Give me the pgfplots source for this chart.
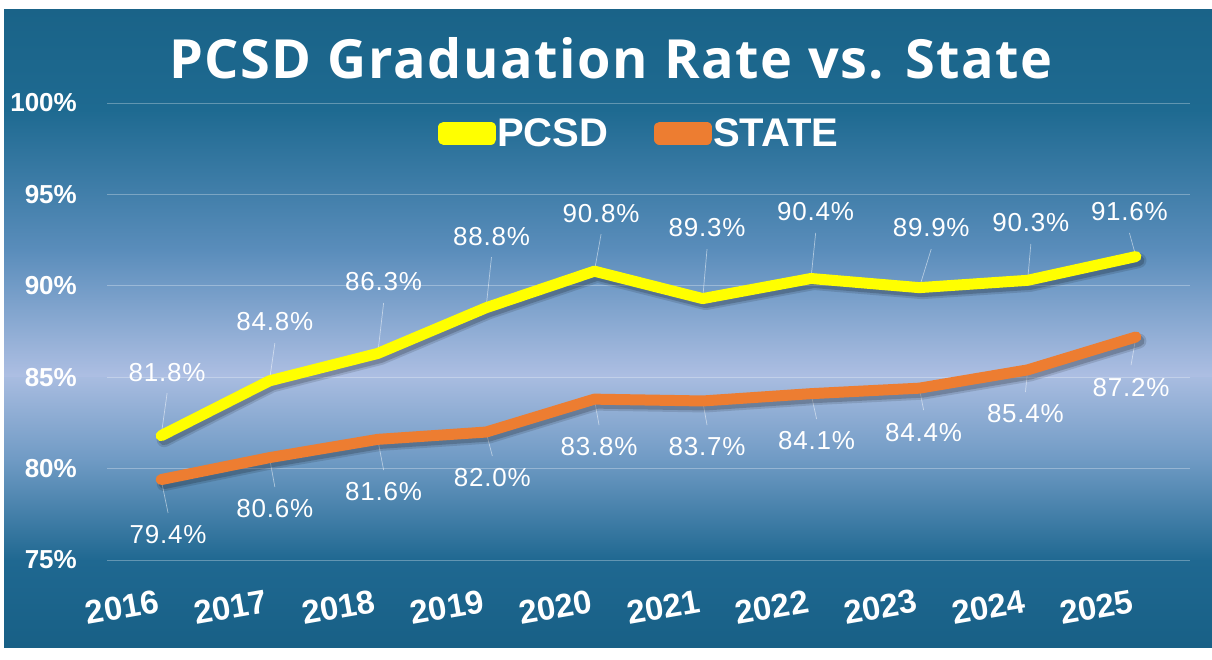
\documentclass[border=0pt]{standalone}
\usepackage{pgfplots}
\pgfplotsset{compat=1.18}
\usepackage{pgfplotstable}
\usepackage{fontspec}
\setmainfont{Liberation Sans}
\newfontfamily\titlefont[LetterSpace=3]{Open Sans}
\newfontfamily\lblfont[LetterSpace=3]{Liberation Sans}
\definecolor{pcsd}{HTML}{FFFF00}
\definecolor{stc}{HTML}{ED7D31}
\definecolor{bgA}{HTML}{1A6388}
\definecolor{bgB}{HTML}{1E6A91}
\definecolor{bgC}{HTML}{5A8DBB}
\definecolor{bgD}{HTML}{AEBFE3}
\definecolor{bgE}{HTML}{A8BCE0}
\definecolor{bgF}{HTML}{6F9AC4}
\definecolor{bgG}{HTML}{1F6891}
\definecolor{bgH}{HTML}{186086}
\pgfplotstableread{
x pcsd plx ply state slx sly
0 81.8 0.055 85.28 79.4 0.064 76.37
1 84.8 1.05 88.02 80.6 1.05 77.79
2 86.3 2.054 90.21 81.6 2.054 78.72
3 88.8 3.05 92.72 82.0 3.058 79.49
4 90.8 4.062 93.98 83.8 4.043 81.18
5 89.3 5.04 93.16 83.7 5.04 81.18
6 90.4 6.043 94.04 84.1 6.052 81.51
7 89.9 7.11 93.16 84.4 7.04 82.00
8 90.3 8.03 93.44 85.4 7.98 82.99
9 91.6 8.94 94.04 87.2 8.955 84.46
}\data
\begin{document}
\begin{tikzpicture}
% page and background
\fill[white] (0pt,0pt) rectangle (1212pt,-659pt);
\shade[top color=bgA, bottom color=bgB] (4pt,-9pt) rectangle (1212pt,-110.5pt);
\shade[top color=bgB, bottom color=bgC] (4pt,-110pt) rectangle (1212pt,-250.5pt);
\shade[top color=bgC, bottom color=bgD] (4pt,-250pt) rectangle (1212pt,-377.5pt);
\shade[top color=bgE, bottom color=bgF] (4pt,-377pt) rectangle (1212pt,-460.5pt);
\shade[top color=bgF, bottom color=bgG] (4pt,-460pt) rectangle (1212pt,-560.5pt);
\shade[top color=bgG, bottom color=bgH] (4pt,-560pt) rectangle (1212pt,-647pt);
% title
\node[anchor=base, text=white, font=\titlefont\bfseries\fontsize{54}{54}\selectfont] at (611pt,-78pt) {PCSD Graduation Rate vs. State};
\begin{axis}[
  at={(107pt,-560pt)}, anchor=south west,
  scale only axis, width=1083pt, height=457pt,
  xmin=-0.5, xmax=9.5, ymin=75, ymax=100,
  clip=false,
  axis line style={draw=none},
  major tick length=0pt, tick style={draw=none},
  ytick={75,80,85,90,95,100},
  yticklabels={75\%,80\%,85\%,90\%,95\%,100\%},
  yticklabel style={font=\bfseries\fontsize{26}{26}\selectfont, text=white, anchor=east, inner sep=0pt, xshift=-30pt},
  xtick={0,...,9},
  xticklabels={2016,2017,2018,2019,2020,2021,2022,2023,2024,2025},
  xticklabel style={font=\bfseries\fontsize{33}{33}\selectfont, text=white, anchor=center, inner sep=0pt, xshift=-39pt, yshift=-47pt, rotate=10},
  ymajorgrids, grid style={white, opacity=0.3, line width=0.8pt},
  legend style={at={(axis description cs:0.491,0.934)}, anchor=center, draw=none, fill=none,
    legend columns=2, font=\bfseries\fontsize{40}{40}\selectfont, text=white,
    inner sep=0pt, nodes={inner sep=1pt},
    /tikz/every even column/.append style={column sep=45pt}},
  legend image code/.code={\path (0pt,-6pt) rectangle (47pt,6pt); \draw[line width=10pt, line cap=round] (5pt,0pt) -- (42pt,0pt);},
  /pgf/number format/assume math mode=true,
]
% leader lines
\addplot[forget plot, white, opacity=0.5, line width=0.7pt, mark=none,
  quiver={u=\thisrow{x}-\thisrow{plx}, v=\thisrow{pcsd}-\thisrow{ply}+1.15}]
  table[x=plx, y expr=\thisrow{ply}-1.15]{\data};
\addplot[forget plot, white, opacity=0.5, line width=0.7pt, mark=none,
  quiver={u=\thisrow{x}-\thisrow{slx}, v=\thisrow{state}-\thisrow{sly}-1.2}]
  table[x=slx, y expr=\thisrow{sly}+1.2]{\data};
% shadows
\addplot[forget plot, black, opacity=0.12, line width=15pt, line join=round, line cap=round, xshift=3pt, yshift=-4pt] table[x=x,y=pcsd]{\data};
\addplot[forget plot, black, opacity=0.18, line width=11pt, line join=round, line cap=round, xshift=3pt, yshift=-4pt] table[x=x,y=pcsd]{\data};
\addplot[forget plot, black, opacity=0.12, line width=15pt, line join=round, line cap=round, xshift=3pt, yshift=-4pt] table[x=x,y=state]{\data};
\addplot[forget plot, black, opacity=0.18, line width=11pt, line join=round, line cap=round, xshift=3pt, yshift=-4pt] table[x=x,y=state]{\data};
% lines
\addplot[pcsd, line width=11pt, line join=round, line cap=round] table[x=x,y=pcsd]{\data};
\addlegendentry{PCSD}
\addplot[stc, line width=11pt, line join=round, line cap=round] table[x=x,y=state]{\data};
\addlegendentry{STATE}
% data labels
\addplot[forget plot, draw=none, mark=none, point meta=explicit,
  nodes near coords={\pgfmathprintnumber[fixed,fixed zerofill,precision=1]{\pgfplotspointmeta}\%},
  every node near coord/.append style={anchor=center, text=white, inner sep=0pt, font=\lblfont\fontsize{26}{26}\selectfont}]
  table[x=plx, y=ply, meta=pcsd]{\data};
\addplot[forget plot, draw=none, mark=none, point meta=explicit,
  nodes near coords={\pgfmathprintnumber[fixed,fixed zerofill,precision=1]{\pgfplotspointmeta}\%},
  every node near coord/.append style={anchor=center, text=white, inner sep=0pt, font=\lblfont\fontsize{26}{26}\selectfont}]
  table[x=slx, y=sly, meta=state]{\data};
\end{axis}
\end{tikzpicture}
\end{document}
